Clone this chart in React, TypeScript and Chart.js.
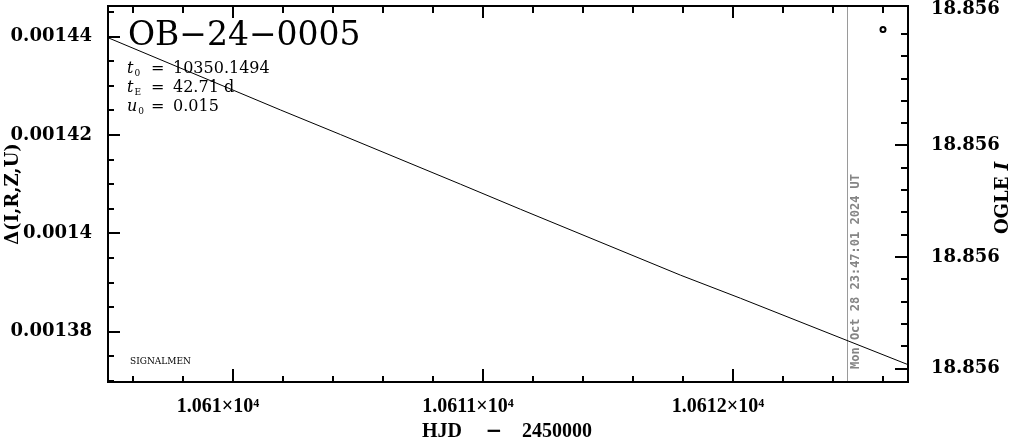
import React, { useEffect, useRef } from "react";
import { Chart, registerables } from "chart.js";

Chart.register(...registerables);

// ---- data ----
const lcTimes = [10609.5, 10610.19, 10610.43, 10610.91, 10611.15, 10611.79, 10612.03, 10612.7];
const lcDelta = [0.0014398, 0.0014251, 0.0014201, 0.00141, 0.0014049, 0.0013915, 0.0013868, 0.0013733];
const ogleTimes = [10612.6];
const ogleMag = [18.8559696];
const nowTime = 10612.458;
const nowLabel = "Mon Oct 28 23:47:01 2024 UT";

const xMin = 10609.5;
const xMax = 10612.7;
const yMin = 0.00136977;
const yMax = 0.00144625;
const magMin = 18.8559675;
const magMax = 18.8560012;

const xTickValues = [10610, 10611, 10612];
const xTickLabels = ["1.061×10⁴", "1.0611×10⁴", "1.0612×10⁴"];
const yTickValues = [0.00138, 0.0014, 0.00142, 0.00144];
const yTickLabels = ["0.00138", "0.0014", "0.00142", "0.00144"];
const magLabelValues = [18.8559678, 18.85598, 18.85599, 18.856];
const magLabelTexts = ["18.856", "18.856", "18.856", "18.856"];
const magMajorTicks = [18.85598, 18.85599, 18.856];
const magMinorStart = 18.85597;
const magMinorStep = 0.000002;
const xMinorStep = 0.2;
const yMinorStep = 0.000005;

const eventName = "OB−24−0005";
const paramSymbols = ["t", "t", "u"];
const paramSubs = ["0", "E", "0"];
const paramValues = ["10350.1494", "42.71 d", "0.015"];
const creditText = "SIGNALMEN";
const xTitleParts = ["HJD", "−", "2450000"];
const yTitle = "Δ(I,R,Z,U)";
const y2Title = "OGLE ";
const y2TitleItalic = "I";

const SERIF = "'DejaVu Serif', serif";
const LSERIF = "'Liberation Serif', serif";

const decorPlugin = {
  id: "decor",
  beforeDatasetsDraw(chart: any) {
    const ctx = chart.ctx;
    const { top, bottom } = chart.chartArea;
    const px = Math.round(chart.scales.x.getPixelForValue(nowTime)) + 0.5;
    ctx.save();
    ctx.strokeStyle = "#9a9a9a";
    ctx.lineWidth = 1;
    ctx.beginPath();
    ctx.moveTo(px, top);
    ctx.lineTo(px, bottom);
    ctx.stroke();
    ctx.restore();
  },
  afterDraw(chart: any) {
    const ctx = chart.ctx;
    const { left, top, right, bottom } = chart.chartArea;
    const sx = chart.scales.x;
    const sy = chart.scales.y;
    const sm = chart.scales.y2;
    ctx.save();
    ctx.strokeStyle = "#000";
    ctx.lineWidth = 2;
    ctx.beginPath();
    // x ticks (bottom + top)
    for (let k = -2; k <= 14; k++) {
      const v = xTickValues[0] + k * xMinorStep;
      if (v <= xMin || v >= xMax) continue;
      const isMajor = xTickValues.some((t) => Math.abs(t - v) < 1e-6);
      const p = Math.round(sx.getPixelForValue(v));
      const lb = isMajor ? 13 : 6;
      const lt = isMajor ? 12 : 7;
      ctx.moveTo(p, bottom);
      ctx.lineTo(p, bottom - lb);
      ctx.moveTo(p, top);
      ctx.lineTo(p, top + lt);
    }
    // left ticks
    for (let k = -3; k <= 13; k++) {
      const v = yTickValues[0] + k * yMinorStep;
      if (v <= yMin || v >= yMax) continue;
      const isMajor = yTickValues.some((t) => Math.abs(t - v) < 1e-9);
      const p = Math.round(sy.getPixelForValue(v));
      ctx.moveTo(left, p);
      ctx.lineTo(left + (isMajor ? 12 : 6), p);
    }
    // right ticks
    for (let k = 0; k <= 15; k++) {
      const v = magMinorStart + k * magMinorStep;
      if (v <= magMin || v >= magMax) continue;
      const isMajor = magMajorTicks.some((t) => Math.abs(t - v) < 1e-9);
      const p = Math.round(sm.getPixelForValue(v));
      ctx.moveTo(right, p);
      ctx.lineTo(right - (isMajor ? 13 : 7), p);
    }
    ctx.stroke();
    // frame
    ctx.strokeRect(left, top, right - left, bottom - top);

    // title
    ctx.fillStyle = "#000";
    ctx.textBaseline = "alphabetic";
    ctx.textAlign = "left";
    ctx.font = `33px ${SERIF}`;
    ctx.fillText(eventName, 128, 45);

    // parameters
    const baselines = [73, 92, 111];
    for (let i = 0; i < paramSymbols.length; i++) {
      const b = baselines[i];
      ctx.font = `italic 16px ${SERIF}`;
      ctx.fillText(paramSymbols[i], 127, b);
      const w = ctx.measureText(paramSymbols[i]).width;
      ctx.font = `9px ${SERIF}`;
      ctx.fillText(paramSubs[i], 127 + w + 1, b + 3);
      ctx.font = `16px ${SERIF}`;
      ctx.fillText("=", 151, b);
      ctx.fillText(paramValues[i], 173, b);
    }

    // credit
    ctx.font = `9px ${SERIF}`;
    ctx.fillText(creditText, 130, 364);

    // vertical "now" label
    ctx.save();
    ctx.fillStyle = "#858585";
    ctx.font = "bold 12px 'DejaVu Sans Mono', monospace";
    ctx.translate(Math.round(sx.getPixelForValue(nowTime)) + 9, 369);
    ctx.rotate(-Math.PI / 2);
    ctx.textBaseline = "middle";
    ctx.fillText(nowLabel, 0, 0);
    ctx.restore();

    // x axis title
    ctx.font = `bold 20px ${LSERIF}`;
    ctx.textAlign = "left";
    ctx.fillText(xTitleParts[0], 422, 437);
    ctx.fillText(xTitleParts[2], 522, 437);
    ctx.textAlign = "center";
    ctx.font = `bold 20px ${SERIF}`;
    ctx.fillText(xTitleParts[1], 494, 437);

    ctx.font = `bold 18px ${SERIF}`;
    ctx.save();
    ctx.translate(13, 194);
    ctx.rotate(-Math.PI / 2);
    ctx.textBaseline = "middle";
    ctx.fillText(yTitle, 0, 0);
    ctx.restore();

    ctx.save();
    ctx.translate(1003, 198);
    ctx.rotate(-Math.PI / 2);
    ctx.textBaseline = "middle";
    ctx.textAlign = "left";
    ctx.font = `bold 18px ${SERIF}`;
    const w1 = ctx.measureText(y2Title).width;
    ctx.font = `bold italic 18px ${SERIF}`;
    const w2 = ctx.measureText(y2TitleItalic).width;
    const start = -(w1 + w2) / 2;
    ctx.font = `bold 18px ${SERIF}`;
    ctx.fillText(y2Title, start, 0);
    ctx.font = `bold italic 18px ${SERIF}`;
    ctx.fillText(y2TitleItalic, start + w1, 0);
    ctx.restore();

    ctx.restore();
  },
};

export default function App() {
  const canvasRef = useRef<HTMLCanvasElement | null>(null);

  useEffect(() => {
    const canvas = canvasRef.current;
    if (!canvas) return;
    const tickFont = { family: SERIF, weight: "bold" as const, size: 18 };
    const xTickFont = { family: LSERIF, weight: "bold" as const, size: 20 };
    const chart = new Chart(canvas, {
      type: "line",
      data: {
        datasets: [
          {
            label: "model",
            data: lcTimes.map((t, i) => ({ x: t, y: lcDelta[i] })),
            borderColor: "#000",
            borderWidth: 1,
            pointRadius: 0,
            tension: 0,
            fill: false,
            xAxisID: "x",
            yAxisID: "y",
          },
          {
            label: "OGLE",
            data: ogleTimes.map((t, i) => ({ x: t, y: ogleMag[i] })),
            showLine: false,
            borderColor: "#000",
            backgroundColor: "#fff",
            pointRadius: 2.5,
            pointBorderWidth: 2,
            xAxisID: "x",
            yAxisID: "y2",
          },
        ],
      },
      options: {
        animation: false,
        responsive: false,
        devicePixelRatio: 1,
        events: [],
        layout: { padding: { top: 6, left: 0, right: 0, bottom: 0 } },
        plugins: { legend: { display: false }, tooltip: { enabled: false }, title: { display: false } },
        scales: {
          x: {
            type: "linear",
            position: "bottom",
            min: xMin,
            max: xMax,
            grid: { display: false },
            border: { display: false },
            afterBuildTicks: (s: any) => {
              s.ticks = xTickValues.map((v) => ({ value: v }));
            },
            afterFit: (s: any) => {
              s.height = 58;
              s.paddingLeft = 0;
              s.paddingRight = 0;
            },
            ticks: {
              autoSkip: false,
              maxRotation: 0,
              padding: 5,
              labelOffset: -15,
              color: "#000",
              font: xTickFont,
              callback: (v: any) => {
                const i = xTickValues.findIndex((t) => Math.abs(t - v) < 1e-6);
                return i >= 0 ? xTickLabels[i] : "";
              },
            },
          },
          y: {
            type: "linear",
            position: "left",
            min: yMin,
            max: yMax,
            grid: { display: false },
            border: { display: false },
            afterBuildTicks: (s: any) => {
              s.ticks = yTickValues.map((v) => ({ value: v }));
            },
            afterFit: (s: any) => {
              s.width = 108;
              s.paddingTop = 0;
              s.paddingBottom = 0;
            },
            ticks: {
              autoSkip: false,
              padding: 8,
              color: "#000",
              font: tickFont,
              callback: (v: any) => {
                const i = yTickValues.findIndex((t) => Math.abs(t - v) < 1e-9);
                return i >= 0 ? yTickLabels[i] : "";
              },
            },
          },
          y2: {
            type: "linear",
            position: "right",
            reverse: true,
            min: magMin,
            max: magMax,
            grid: { display: false },
            border: { display: false },
            afterBuildTicks: (s: any) => {
              s.ticks = magLabelValues.map((v) => ({ value: v }));
            },
            afterFit: (s: any) => {
              s.width = 103;
              s.paddingTop = 0;
              s.paddingBottom = 0;
            },
            ticks: {
              autoSkip: false,
              padding: 15,
              color: "#000",
              font: tickFont,
              callback: (v: any) => {
                const i = magLabelValues.findIndex((t) => Math.abs(t - v) < 1e-9);
                return i >= 0 ? magLabelTexts[i] : "";
              },
            },
          },
        },
      },
      plugins: [decorPlugin],
    });
    return () => chart.destroy();
  }, []);

  return (
    <div style={{ position: "fixed", left: 0, top: 0, width: 1011, height: 440, background: "#fff" }}>
      <canvas ref={canvasRef} width={1011} height={440} style={{ display: "block" }} />
    </div>
  );
}
